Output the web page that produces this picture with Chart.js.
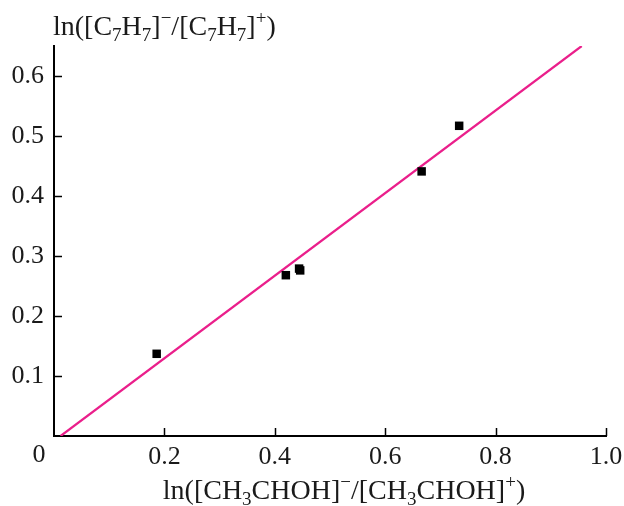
<!DOCTYPE html>
<html>
<head>
<meta charset="utf-8">
<script src="https://cdn.jsdelivr.net/npm/chart.js@4.4.0/dist/chart.umd.min.js"></script>
<style>
  body { margin: 0; background: #fff; }
  #wrap { width: 624px; height: 506px; }
</style>
</head>
<body>
<div id="wrap"><canvas id="myChart" width="624" height="506"></canvas></div>
<script>
// measured points
var pointsX = [0.186, 0.420, 0.444, 0.446, 0.666, 0.734];
var pointsY = [0.137, 0.268, 0.279, 0.276, 0.441, 0.517];
// fitted line, two ends
var fitX = [0.012, 0.956];
var fitY = [0.0, 0.65];
var xTicks = [0, 0.2, 0.4, 0.6, 0.8, 1.0];
var yTicks = [0.1, 0.2, 0.3, 0.4, 0.5, 0.6];

var FONT = '"Liberation Serif", "Times New Roman", serif';

// draws text with subscripts / superscripts, segments like ['n','ln(']
function richText(ctx, segs, x, y, align) {
    var big = 28, small = 19;
    var total = 0;
    segs.forEach(function(s) {
        ctx.font = (s[0] === 'n' ? big : small) + 'px ' + FONT;
        total += ctx.measureText(s[1]).width;
    });
    var cx = align === 'center' ? x - total / 2 : x;
    ctx.textAlign = 'left';
    ctx.textBaseline = 'alphabetic';
    segs.forEach(function(s) {
        var dy = 0;
        if (s[0] === 'sub') dy = 6;
        if (s[0] === 'sup') dy = -11;
        ctx.font = (s[0] === 'n' ? big : small) + 'px ' + FONT;
        ctx.fillText(s[1], cx, y + dy);
        cx += ctx.measureText(s[1]).width;
    });
}

var axisDecor = {
    id: 'axisDecor',
    afterDraw: function(chart) {
        var ctx = chart.ctx;
        var xs = chart.scales.x, ys = chart.scales.y;
        var area = chart.chartArea;
        ctx.save();
        ctx.strokeStyle = '#000';
        ctx.lineWidth = 1.5;
        // inward ticks
        yTicks.forEach(function(v) {
            var p = Math.round(ys.getPixelForValue(v)) + 0.5;
            ctx.beginPath();
            ctx.moveTo(area.left, p);
            ctx.lineTo(area.left + 8, p);
            ctx.stroke();
        });
        xTicks.forEach(function(v) {
            if (v === 0) return;
            var p = Math.round(xs.getPixelForValue(v)) + 0.5;
            ctx.beginPath();
            ctx.moveTo(p, area.bottom);
            ctx.lineTo(p, area.bottom - 8);
            ctx.stroke();
        });
        ctx.fillStyle = '#1a1a1a';
        // origin label sits left of the axis
        ctx.font = '26px ' + FONT;
        ctx.textAlign = 'center';
        ctx.textBaseline = 'top';
        ctx.fillText('0', xs.getPixelForValue(0) - 15, area.bottom + 6);
        // axis titles
        richText(ctx, [['n', 'ln([C'], ['sub', '7'], ['n', 'H'], ['sub', '7'], ['n', ']'], ['sup', '\u2212'],
                       ['n', '/[C'], ['sub', '7'], ['n', 'H'], ['sub', '7'], ['n', ']'], ['sup', '+'], ['n', ')']],
                 53, 35, 'left');
        richText(ctx, [['n', 'ln([CH'], ['sub', '3'], ['n', 'CHOH]'], ['sup', '\u2212'],
                       ['n', '/[CH'], ['sub', '3'], ['n', 'CHOH]'], ['sup', '+'], ['n', ')']],
                 344, 499, 'center');
        ctx.restore();
    }
};

var scatterData = pointsX.map(function(x, i) { return { x: x, y: pointsY[i] }; });
var fitData = fitX.map(function(x, i) { return { x: x, y: fitY[i] }; });

var ctx = document.getElementById('myChart').getContext('2d');
var myChart = new Chart(ctx, {
    type: 'scatter',
    data: {
        datasets: [{
            label: 'fit',
            type: 'line',
            data: fitData,
            borderColor: '#ea1f8b',
            borderWidth: 2.2,
            pointRadius: 0,
            fill: false,
            order: 2
        }, {
            label: 'data',
            data: scatterData,
            pointStyle: 'rect',
            pointRadius: 6,
            pointHoverRadius: 6,
            backgroundColor: '#000',
            borderColor: '#000',
            borderWidth: 0,
            order: 1
        }]
    },
    options: {
        responsive: false,
        animation: false,
        layout: { padding: { top: 46, right: 0, left: 0, bottom: 0 } },
        plugins: {
            legend: { display: false },
            tooltip: { enabled: false }
        },
        scales: {
            x: {
                type: 'linear',
                min: 0,
                max: 1.0,
                afterFit: function(s) { s.height = 70; s.paddingRight = 18; s.paddingLeft = 0; },
                afterBuildTicks: function(s) { s.ticks = xTicks.map(function(v) { return { value: v }; }); },
                grid: { display: false, drawTicks: false },
                border: { display: true, color: '#000', width: 2 },
                ticks: {
                    padding: 6,
                    color: '#1a1a1a',
                    font: { family: FONT, size: 26 },
                    callback: function(v) { return v === 0 ? '' : v.toFixed(1); }
                }
            },
            y: {
                type: 'linear',
                min: 0,
                max: 0.65,
                afterFit: function(s) { s.width = 54; s.paddingTop = 0; s.paddingBottom = 0; },
                afterBuildTicks: function(s) { s.ticks = yTicks.map(function(v) { return { value: v }; }); },
                grid: { display: false, drawTicks: false },
                border: { display: true, color: '#000', width: 2 },
                ticks: {
                    padding: 10,
                    color: '#1a1a1a',
                    font: { family: FONT, size: 26 },
                    callback: function(v) { return v.toFixed(1); }
                }
            }
        }
    },
    plugins: [axisDecor]
});
</script>
</body>
</html>
